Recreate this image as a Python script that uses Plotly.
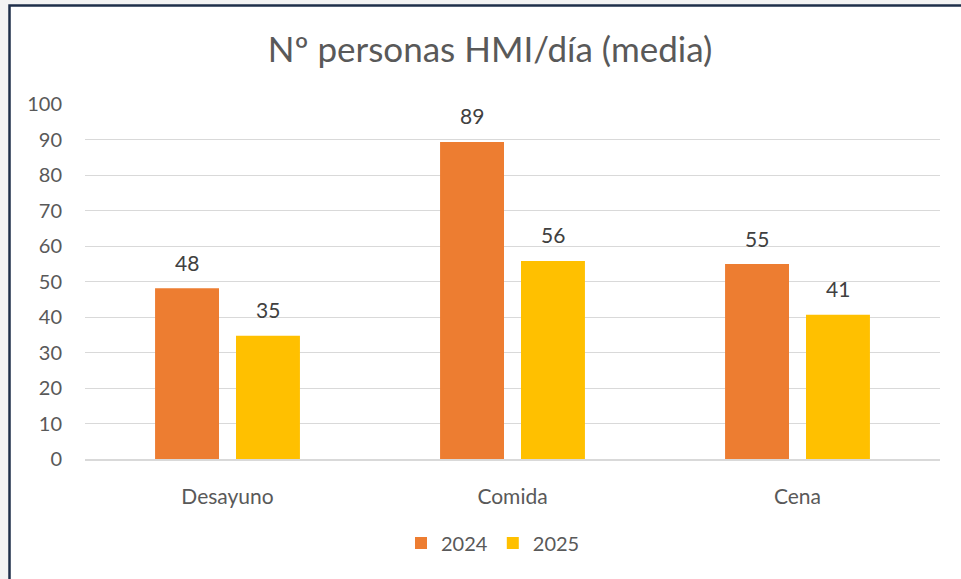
import plotly.graph_objects as go

categories = ["Desayuno", "Comida", "Cena"]
series_names = ["2024", "2025"]
values_2024 = [48.1, 89.3, 54.9]
values_2025 = [34.7, 55.8, 40.6]
colors = ["#ED7D31", "#FFC000"]
y_ticks = list(range(0, 101, 10))

FONT = "Lato, Open Sans, sans-serif"
fig = go.Figure()
for name, vals, col in zip(series_names, [values_2024, values_2025], colors):
    fig.add_trace(go.Bar(x=categories, y=vals, name=name, marker=dict(color=col, line=dict(width=0))))

# data labels above bars
for i, vals in enumerate([values_2024, values_2025]):
    shift = -40.5 if i == 0 else 40.5
    for j, v in enumerate(vals):
        fig.add_annotation(x=j, y=v, text=f"{round(v)}", showarrow=False, xshift=shift, yshift=26,
                           font=dict(family=FONT, size=21, color="#404040"))

W0, W1 = 85, 940
T0, B0 = 104, 459
def px2x(px):
    return (px - W0) / (W1 - W0)
def px2y(py):
    return (B0 - py) / (B0 - T0)

shapes = [
    dict(type="rect", xref="paper", yref="paper", x0=px2x(0), x1=px2x(9), y0=px2y(600), y1=px2y(-5),
         fillcolor="#f3f3f3", line=dict(width=0), layer="below"),
    dict(type="rect", xref="paper", yref="paper", x0=px2x(0), x1=px2x(980), y0=px2y(5), y1=px2y(-5),
         fillcolor="#f3f3f3", line=dict(width=0), layer="below"),
    dict(type="rect", xref="paper", yref="paper", x0=px2x(9.5), x1=px2x(990), y0=px2y(600), y1=px2y(5.5),
         fillcolor="rgba(0,0,0,0)", line=dict(color="#1f2f4a", width=2.5), layer="above"),
]

fig.update_layout(
    width=961, height=579,
    margin=dict(l=W0, r=961 - W1, t=T0, b=579 - B0),
    paper_bgcolor="white", plot_bgcolor="white",
    title=dict(text="Nº personas HMI/día (media)", x=(490) / 961, xanchor="center", y=1 - 50 / 579, yanchor="middle",
               font=dict(family=FONT, size=35, color="#595959")),
    barmode="group", bargap=0.432, bargroupgap=0.21,
    font=dict(family=FONT, size=20, color="#595959"),
    xaxis=dict(showgrid=False, showline=True, linecolor="#d9d9d9", linewidth=1.5, ticks="",
               tickfont=dict(family=FONT, size=21, color="#595959"), ticklabelstandoff=18, fixedrange=True),
    yaxis=dict(range=[0, 100], tickvals=y_ticks, showgrid=True, gridcolor="#d9d9d9", gridwidth=1.3,
               zeroline=False, showline=False, ticks="", ticklabelstandoff=22,
               tickfont=dict(family=FONT, size=20, color="#595959")),
    legend=dict(orientation="h", x=px2x(493), xanchor="center", y=px2y(543), yanchor="middle",
                font=dict(family=FONT, size=20, color="#595959"), itemwidth=30, traceorder="normal"),
    shapes=shapes,
    showlegend=True,
)

fig.write_html("out.html")
